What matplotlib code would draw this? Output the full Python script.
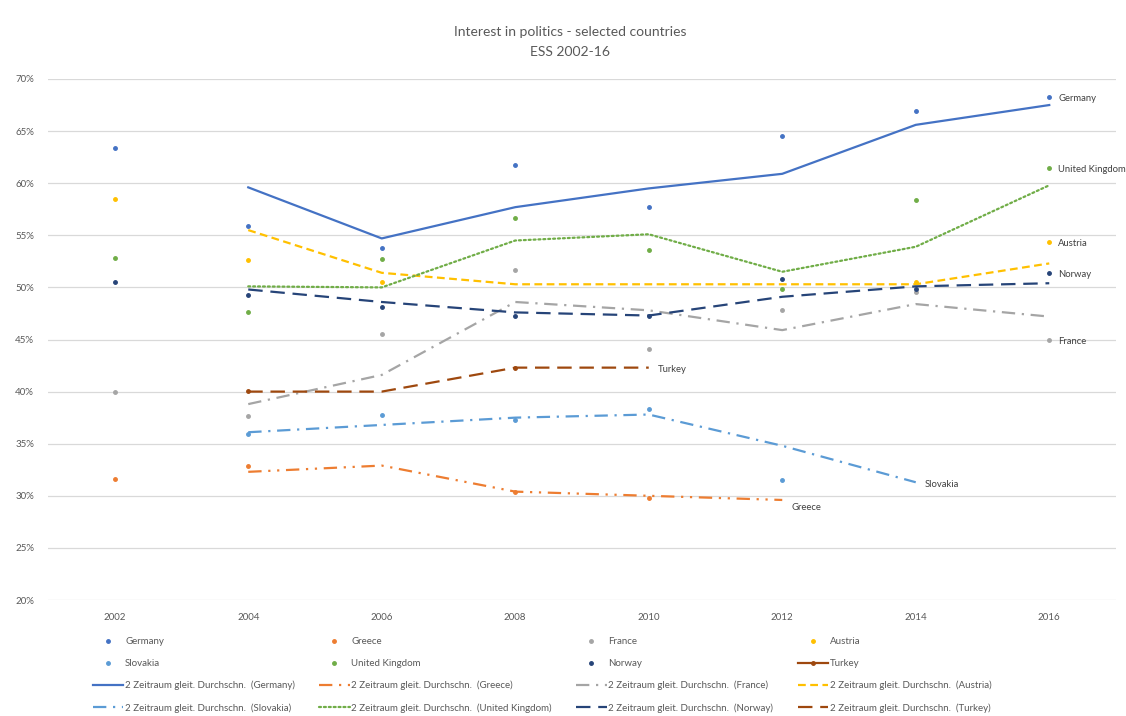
import matplotlib.pyplot as plt
import numpy as np
from matplotlib.ticker import PercentFormatter

plt.rcParams["font.family"] = ["Lato", "DejaVu Sans"]

nan = np.nan

years = ["2002", "2004", "2006", "2008", "2010", "2012", "2014", "2016"]
countries = ["Germany", "Greece", "France", "Austria",
             "Slovakia", "United Kingdom", "Norway", "Turkey"]

# survey values (% interested in politics)
germany = [63.4, 55.9, 53.8, 61.7, 57.7, 64.5, 66.9, 68.3]
greece = [31.6, 32.9, nan, 30.4, 29.8, nan, nan, nan]
france = [40.0, 37.7, 45.5, 51.7, 44.1, 47.8, 49.6, 45.0]
austria = [58.5, 52.6, 50.5, nan, nan, nan, 50.5, 54.4]
slovakia = [nan, 35.9, 37.8, 37.3, 38.3, 31.5, nan, nan]
uk = [52.8, 47.6, 52.7, 56.7, 53.6, 49.8, 58.4, 61.5]
norway = [50.5, 49.3, 48.1, 47.3, 47.3, 50.8, 49.8, 51.4]
turkey = [nan, 40.1, nan, 42.3, nan, nan, nan, nan]

# 2-period moving average trend lines, as drawn in the chart
germany_ma = [nan, 59.6, 54.7, 57.7, 59.5, 60.9, 65.6, 67.5]
greece_ma = [nan, 32.3, 32.9, 30.4, 30.0, 29.6, nan, nan]
france_ma = [nan, 38.8, 41.6, 48.6, 47.8, 45.9, 48.4, 47.2]
austria_ma = [nan, 55.5, 51.4, 50.3, 50.3, 50.3, 50.3, 52.3]
slovakia_ma = [nan, 36.1, 36.8, 37.5, 37.8, 34.8, 31.3, nan]
uk_ma = [nan, 50.1, 50.0, 54.5, 55.1, 51.5, 53.9, 59.8]
norway_ma = [nan, 49.8, 48.6, 47.6, 47.3, 49.1, 50.1, 50.4]
turkey_ma = [nan, 40.0, 40.0, 42.3, 42.3, nan, nan, nan]

points = [germany, greece, france, austria, slovakia, uk, norway, turkey]
trends = [germany_ma, greece_ma, france_ma, austria_ma,
          slovakia_ma, uk_ma, norway_ma, turkey_ma]

colors = ["#4472C4", "#ED7D31", "#A5A5A5", "#FFC000",
          "#5B9BD5", "#70AD47", "#264478", "#9E480E"]
dashes = ["-", (0, (6, 3, 1, 3, 1, 3)), (0, (6, 3, 1, 3)), (0, (3.5, 2)),
          (0, (6, 3, 1, 3)), (0, (0.9, 1.3)), (0, (6.5, 3.5)), (0, (6.5, 3.5))]

text_col = "#595959"

fig = plt.figure(figsize=(11.26, 7.16), dpi=100)
ax = fig.add_axes([48 / 1126, 1 - 600 / 716, 1068 / 1126, 521 / 716])

x = np.arange(len(years))
point_handles = []
trend_handles = []
for i, name in enumerate(countries):
    if name == "Turkey":
        h, = ax.plot(x, points[i], "-", marker="o", ms=2.5, color=colors[i], lw=1.6, zorder=3)
    else:
        h, = ax.plot(x, points[i], "o", ms=2.5, color=colors[i], zorder=3)
    point_handles.append(h)
    t, = ax.plot(x, trends[i], linestyle=dashes[i], color=colors[i], lw=1.6,
                 dash_capstyle="butt", zorder=4)
    if name == "United Kingdom":
        t.set_dash_capstyle("round")
    trend_handles.append(t)

# data labels at the right end of each series
label_at = {
    "Germany": (7, germany[7], 0),
    "United Kingdom": (7, uk[7], 0),
    "Austria": (7, austria[7], 0),
    "Norway": (7, norway[7], 0),
    "France": (7, france[7], 0),
    "Slovakia": (6, slovakia_ma[6], 0),
    "Greece": (5, greece_ma[5], -6),
    "Turkey": (4, turkey_ma[4], 0),
}
for name, (xi, val, dy) in label_at.items():
    ax.annotate(name, (xi, val), xytext=(9, dy - 2), textcoords="offset pixels",
                va="center", ha="left", fontsize=6.8, color="#404040",
                annotation_clip=False)

ax.set_xlim(-0.5, 7.5)
ax.set_ylim(20, 70)
ax.set_yticks(np.arange(20, 71, 5))
ax.yaxis.set_major_formatter(PercentFormatter(decimals=0))
ax.set_xticks(x)
ax.set_xticklabels(years)
ax.tick_params(length=0, labelsize=7, labelcolor=text_col)
ax.tick_params(axis="y", pad=10)
ax.tick_params(axis="x", pad=9)
ax.grid(axis="y", color="#D9D9D9", lw=0.9)
ax.set_axisbelow(True)
for s in ax.spines.values():
    s.set_visible(False)

fig.text(570 / 1126, 1 - 32 / 716, "Interest in politics - selected countries",
         ha="center", va="center", fontsize=10, color=text_col)
fig.text(570 / 1126, 1 - 52 / 716, "ESS 2002-16",
         ha="center", va="center", fontsize=10, color=text_col)

# legend filled row by row like Excel
handles, labels = [], []
for j in range(4):
    for k in [j, j + 4]:
        handles.append(point_handles[k])
        labels.append(countries[k])
    for k in [j, j + 4]:
        handles.append(trend_handles[k])
        labels.append("2 Zeitraum gleit. Durchschn.  (" + countries[k] + ")")
leg = fig.legend(handles, labels, ncol=4, loc="upper left",
                 bbox_to_anchor=(93 / 1126, 1 - 637 / 716), frameon=False,
                 fontsize=7, handlelength=3.1, handletextpad=0.2,
                 columnspacing=2.5, labelspacing=1.33, borderpad=0,
                 borderaxespad=0)
for t in leg.get_texts():
    t.set_color(text_col)

fig.savefig("out.png", dpi=100)
